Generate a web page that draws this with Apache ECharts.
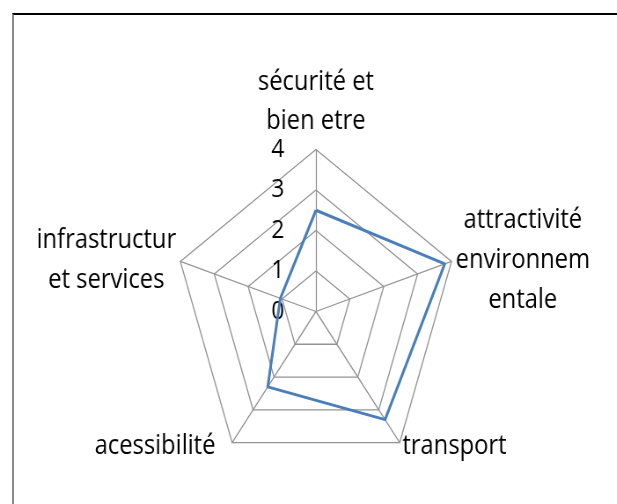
<!DOCTYPE html>
<html>
<head>
<meta charset="utf-8">
<script src="https://cdn.jsdelivr.net/npm/echarts@6/dist/echarts.min.js"></script>
<style>
  html, body { margin: 0; padding: 0; background: #fff; overflow: hidden; width: 617px; height: 504px; }
  .frame {
    position: absolute; left: 12px; top: 13px; width: 700px; height: 600px;
    border-top: 2px solid #000; border-left: 2px solid #8a8a8a;
  }
  /* the source picture is squeezed horizontally, so is the chart */
  #chart {
    position: absolute; left: 0; top: 0; width: 701px; height: 504px;
    transform: scaleX(0.88); transform-origin: 0 0;
  }
</style>
</head>
<body>
<div class="frame"></div>
<div id="chart"></div>
<script>
// categories, clockwise from the top as in the picture
const categories = [
  'sécurité et\nbien etre',
  'attractivité\nenvironnem\nentale',
  'transport',
  'acessibilité',
  'infrastructur\net services'
]
const values = [2.5, 3.8, 3.3, 2.3, 1.05]
const axisMax = 4

// echarts lays radar axes out counter-clockwise, so keep the top one and reverse the rest
const order = [0, 4, 3, 2, 1]

const textFont = '"Open Sans", "Noto Sans", sans-serif'

const chart = echarts.init(document.getElementById('chart'))

const nameStyle = {
  align: 'center',
  color: '#000',
  fontSize: 27,
  fontFamily: textFont,
  lineHeight: 40
}

const option = {
  animation: false,
  radar: {
    center: [359, 311.5],
    radius: 162,
    shape: 'polygon',
    splitNumber: 4,
    nameGap: 5,
    indicator: order.map((i, k) => {
      const ind = { name: categories[i], min: 0, max: axisMax }
      if (k === 0) {
        ind.axisLabel = {
          show: true,
          margin: 36,
          color: '#000',
          fontSize: 26,
          fontFamily: textFont
        }
      }
      return ind
    }),
    axisName: {
      color: '#000',
      fontSize: 27,
      fontFamily: textFont,
      lineHeight: 40,
      formatter: (name) => {
        const lines = name.split('\n')
        // top name sits a little lower in the original
        if (name === categories[0]) {
          return '{t1|' + lines[0] + '}\n{t2|' + lines[1] + '}'
        }
        // the lower-left name sits a bit further out
        const st = name === 'acessibilité' ? 'p' : 'c'
        return lines.map(l => '{' + st + '|' + l + '}').join('\n')
      },
      rich: {
        c: nameStyle,
        p: Object.assign({}, nameStyle, { padding: [0, 16, 0, 0] }),
        t1: Object.assign({}, nameStyle, { lineHeight: 48 }),
        t2: Object.assign({}, nameStyle, { lineHeight: 30 })
      }
    },
    axisLabel: { show: false },
    axisLine: { lineStyle: { color: '#939393', width: 1.3 } },
    splitLine: { lineStyle: { color: '#939393', width: 1.3 } },
    splitArea: { show: false },
    axisTick: { show: false }
  },
  series: [
    {
      type: 'radar',
      symbol: 'none',
      lineStyle: { color: '#4A7EBB', width: 3 },
      data: [{ value: order.map(i => values[i]) }]
    }
  ]
}

chart.setOption(option)
</script>
</body>
</html>
